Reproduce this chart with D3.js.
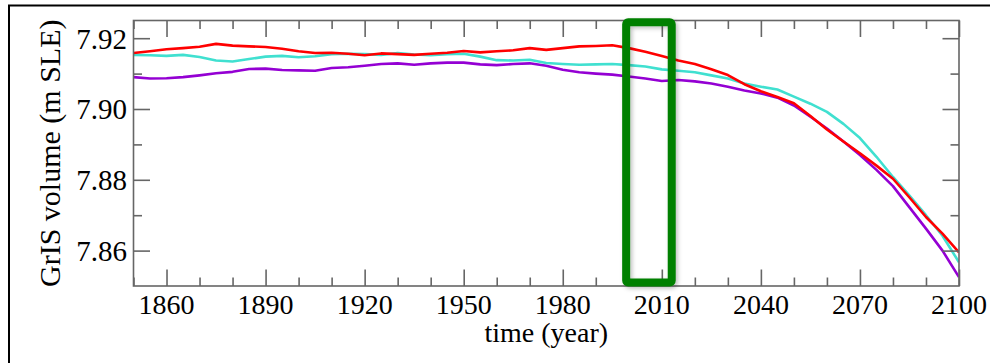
<!DOCTYPE html>
<html>
<head>
<meta charset="utf-8">
<script src="https://cdn.jsdelivr.net/npm/d3@7"></script>
<style>
  html, body { margin: 0; padding: 0; background: #fff; }
  svg { display: block; }
  text { font-family: "Liberation Serif", "DejaVu Serif", serif; fill: #000; }
</style>
</head>
<body>
<svg id="chart" width="990" height="363"></svg>
<script>
// ---------- data ----------
const years = [1850,1855,1860,1865,1870,1875,1880,1885,1890,1895,1900,1905,1910,1915,1920,1925,1930,1935,1940,1945,1950,1955,1960,1965,1970,1975,1980,1985,1990,1995,2000,2005,2010,2015,2020,2025,2030,2035,2040,2045,2050,2055,2060,2065,2070,2075,2080,2085,2090,2095,2100];

const redValues = [7.9158,7.9163,7.9169,7.9172,7.9176,7.9184,7.9179,7.9177,7.9175,7.9170,7.9163,7.9158,7.9159,7.9156,7.9152,7.9157,7.9155,7.9153,7.9156,7.9159,7.9164,7.9160,7.9163,7.9166,7.9172,7.9167,7.9172,7.9177,7.9178,7.9180,7.9172,7.9162,7.9150,7.9137,7.9127,7.9112,7.9096,7.9070,7.9050,7.9034,7.9016,7.8980,7.8942,7.8908,7.8875,7.8840,7.8803,7.8750,7.8695,7.8648,7.8595];

const turquoiseValues = [7.9153,7.9152,7.9150,7.9153,7.9147,7.9137,7.9134,7.9141,7.9148,7.9150,7.9146,7.9149,7.9155,7.9156,7.9155,7.9153,7.9158,7.9154,7.9152,7.9155,7.9156,7.9148,7.9138,7.9137,7.9139,7.9130,7.9127,7.9125,7.9126,7.9127,7.9124,7.9120,7.9112,7.9108,7.9104,7.9095,7.9086,7.9072,7.9063,7.9055,7.9035,7.9015,7.8992,7.8958,7.8918,7.8865,7.8808,7.8755,7.8700,7.8642,7.8567];

const purpleValues = [7.9090,7.9086,7.9087,7.9090,7.9095,7.9101,7.9105,7.9113,7.9114,7.9110,7.9109,7.9108,7.9116,7.9118,7.9122,7.9127,7.9129,7.9125,7.9129,7.9131,7.9131,7.9126,7.9124,7.9127,7.9129,7.9122,7.9111,7.9104,7.9100,7.9097,7.9092,7.9086,7.9079,7.9082,7.9078,7.9072,7.9063,7.9052,7.9044,7.9032,7.9010,7.8978,7.8945,7.8908,7.8870,7.8828,7.8782,7.8722,7.8662,7.8600,7.8525];

const seriesNames = ["red", "turquoise", "purple"];
const seriesColors = ["#ff0000", "#40e0d0", "#9400d3"];

const xMajorTicks = [1860,1890,1920,1950,1980,2010,2040,2070,2100];
const xMinorTicks = [1850,1870,1880,1900,1910,1930,1940,1960,1970,1990,2000,2020,2030,2050,2060,2080,2090];
const yMajorTicks = [7.86,7.88,7.90,7.92];
const yMinorTicks = [7.87,7.89,7.91];

const highlightYears = [1999.2, 2013.0];
const highlightValues = [7.9245, 7.851];

const xTitle = "time (year)";
const yTitle = "GrIS volume (m SLE)";

// ---------- layout ----------
const svg = d3.select("#chart");
const L = 133.5, R = 959, T = 20.5, B = 286;

const x = d3.scaleLinear().domain([1850, 2100]).range([L, R]);
const y = d3.scaleLinear().domain([7.85, 7.925]).range([B, T]);

// outer frame (top and left visible)
svg.append("rect")
  .attr("x", 9).attr("y", 5.5).attr("width", 1100).attr("height", 500)
  .attr("fill", "none").attr("stroke", "#000").attr("stroke-width", 2);

// drop shadow filter for highlight
const defs = svg.append("defs");
const f = defs.append("filter").attr("id", "shadow")
  .attr("x", "-50%").attr("y", "-10%").attr("width", "200%").attr("height", "120%");
f.append("feDropShadow").attr("dx", 2).attr("dy", 2).attr("stdDeviation", 2)
  .attr("flood-color", "#000").attr("flood-opacity", 0.25);

// clip for lines
defs.append("clipPath").attr("id", "plotclip")
  .append("rect").attr("x", L).attr("y", T).attr("width", R - L).attr("height", B - T);

// lines
const allValues = [redValues, turquoiseValues, purpleValues];
const line = d3.line().x((d, i) => x(years[i])).y(d => y(d));
const order = [2, 1, 0]; // purple, turquoise, red on top
const gLines = svg.append("g").attr("clip-path", "url(#plotclip)");
order.forEach(k => {
  gLines.append("path")
    .datum(allValues[k])
    .attr("d", line)
    .attr("fill", "none")
    .attr("stroke", seriesColors[k])
    .attr("stroke-width", 2.6)
    .attr("stroke-linejoin", "round");
});

// axes frame with inward ticks
const axisColor = "#666";
const majLen = 16.5, minLen = 8.5;
function styleAxis(g) {
  g.select(".domain").remove();
  g.selectAll(".tick line").attr("stroke", axisColor).attr("stroke-width", 1.6);
}
// bottom
svg.append("g").attr("transform", `translate(0,${B})`)
  .call(d3.axisBottom(x).tickValues(xMajorTicks).tickSize(-majLen).tickFormat(""))
  .call(styleAxis);
svg.append("g").attr("transform", `translate(0,${B})`)
  .call(d3.axisBottom(x).tickValues(xMinorTicks).tickSize(-minLen).tickFormat(""))
  .call(styleAxis);
// top
svg.append("g").attr("transform", `translate(0,${T})`)
  .call(d3.axisTop(x).tickValues(xMajorTicks).tickSize(-majLen).tickFormat(""))
  .call(styleAxis);
svg.append("g").attr("transform", `translate(0,${T})`)
  .call(d3.axisTop(x).tickValues(xMinorTicks).tickSize(-minLen).tickFormat(""))
  .call(styleAxis);
// left
svg.append("g").attr("transform", `translate(${L},0)`)
  .call(d3.axisLeft(y).tickValues(yMajorTicks).tickSize(-majLen).tickFormat(""))
  .call(styleAxis);
svg.append("g").attr("transform", `translate(${L},0)`)
  .call(d3.axisLeft(y).tickValues(yMinorTicks).tickSize(-minLen).tickFormat(""))
  .call(styleAxis);
// right
svg.append("g").attr("transform", `translate(${R},0)`)
  .call(d3.axisRight(y).tickValues(yMajorTicks).tickSize(-majLen).tickFormat(""))
  .call(styleAxis);
svg.append("g").attr("transform", `translate(${R},0)`)
  .call(d3.axisRight(y).tickValues(yMinorTicks).tickSize(-minLen).tickFormat(""))
  .call(styleAxis);

// frame
svg.append("rect")
  .attr("x", L).attr("y", T).attr("width", R - L).attr("height", B - T)
  .attr("fill", "none").attr("stroke", axisColor).attr("stroke-width", 1.6);

// tick labels
svg.append("g").selectAll("text").data(xMajorTicks).join("text")
  .attr("x", d => x(d)).attr("y", 314)
  .attr("text-anchor", "middle")
  .attr("font-size", 28)
  .text(d => d);

svg.append("g").selectAll("text").data(yMajorTicks).join("text")
  .attr("x", 127).attr("y", d => y(d))
  .attr("dy", "0.36em")
  .attr("text-anchor", "end")
  .attr("font-size", 29)
  .text(d => d.toFixed(2));

// axis titles
svg.append("text")
  .attr("x", (L + R) / 2).attr("y", 342)
  .attr("text-anchor", "middle")
  .attr("font-size", 28)
  .text(xTitle);

svg.append("text")
  .attr("transform", `translate(60,${(T + B) / 2}) rotate(-90)`)
  .attr("text-anchor", "middle")
  .attr("font-size", 30)
  .text(yTitle);

// highlight box
svg.append("rect")
  .attr("x", x(highlightYears[0]))
  .attr("y", y(highlightValues[0]))
  .attr("width", x(highlightYears[1]) - x(highlightYears[0]))
  .attr("height", y(highlightValues[1]) - y(highlightValues[0]))
  .attr("rx", 2)
  .attr("fill", "none")
  .attr("stroke", "#008000")
  .attr("stroke-width", 8)
  .attr("filter", "url(#shadow)");
</script>
</body>
</html>
